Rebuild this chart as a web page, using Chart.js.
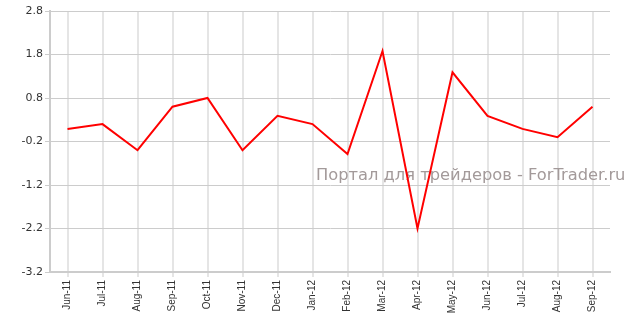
<!DOCTYPE html>
<html lang="ru">
<head>
  <meta charset="UTF-8" />
  <title>Chart</title>
  <script src="https://cdn.jsdelivr.net/npm/chart.js"></script>
  <style>
    html, body { margin: 0; padding: 0; background: #fff; }
    #wrap { width: 632px; height: 328px; }
  </style>
</head>
<body>
  <div id="wrap"><canvas id="myChart" width="632" height="328"></canvas></div>
  <script>
    // данные
    const months = ['Jun-11', 'Jul-11', 'Aug-11', 'Sep-11', 'Oct-11', 'Nov-11', 'Dec-11', 'Jan-12',
                    'Feb-12', 'Mar-12', 'Apr-12', 'May-12', 'Jun-12', 'Jul-12', 'Aug-12', 'Sep-12'];
    const values = [0.09, 0.2, -0.4, 0.6, 0.8, -0.4, 0.39, 0.2, -0.49, 1.88, -2.2, 1.39, 0.39, 0.09, -0.1, 0.6];
    const yTicks = [-3.2, -2.2, -1.2, -0.2, 0.8, 1.8, 2.8];
    const watermark = 'Портал для трейдеров - ForTrader.ru';

    // watermark behind the line
    const watermarkPlugin = {
      id: 'watermark',
      beforeDatasetsDraw(chart) {
        const ctx = chart.ctx;
        ctx.save();
        ctx.font = '16.3px "DejaVu Sans"';
        ctx.fillStyle = '#a39a9a';
        ctx.textAlign = 'left';
        ctx.textBaseline = 'alphabetic';
        ctx.fillText(watermark, 316, 180);
        ctx.restore();
      }
    };

    var ctx = document.getElementById('myChart').getContext('2d');
    var myChart = new Chart(ctx, {
      type: 'line',
      data: {
        labels: months,
        datasets: [{
          data: values,
          borderColor: '#ff0000',
          borderWidth: 2,
          pointRadius: 0,
          tension: 0,
          fill: false
        }]
      },
      options: {
        responsive: false,
        animation: false,
        layout: { padding: { top: 11, right: 22, left: 0, bottom: 0 } },
        plugins: { legend: { display: false }, tooltip: { enabled: false } },
        scales: {
          x: {
            offset: true,
            grid: { color: '#e5e5e5', lineWidth: 2, offset: false, tickLength: 5 },
            border: { color: '#cccccc', width: 2 },
            ticks: {
              minRotation: 90, maxRotation: 90, autoSkip: false, padding: 3,
              color: '#333', font: { family: '"Liberation Sans", Arial', size: 10 }
            },
            afterFit(scale) { scale.height = 56; }
          },
          y: {
            min: -3.2, max: 2.8,
            afterBuildTicks(scale) { scale.ticks = yTicks.map(v => ({ value: v })); },
            grid: { color: '#cccccc', lineWidth: 1, tickLength: 5 },
            border: { color: '#cccccc', width: 2 },
            ticks: {
              padding: 2, color: '#333',
              font: { family: '"DejaVu Sans", Verdana', size: 11 },
              callback: v => v.toFixed(1)
            },
            afterFit(scale) { scale.width = 50; }
          }
        }
      },
      plugins: [watermarkPlugin]
    });
  </script>
</body>
</html>
